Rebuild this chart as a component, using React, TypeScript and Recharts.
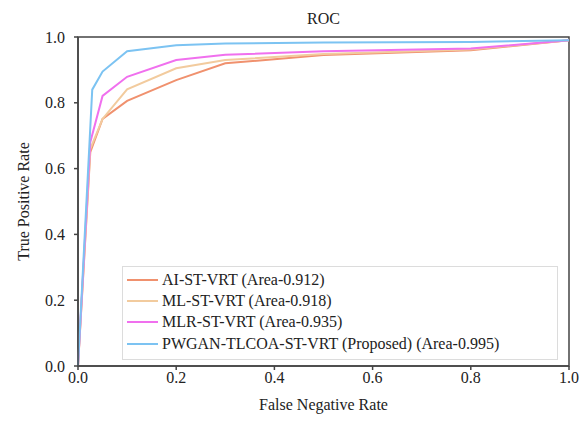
import { LineChart, Line, XAxis, YAxis, ReferenceArea } from 'recharts';

const fnr = [0, 0.025, 0.05, 0.1, 0.2, 0.3, 0.5, 0.8, 1.0];
const aiTpr = [0, 0.65, 0.751, 0.806, 0.869, 0.92, 0.945, 0.96, 0.99];
const mlTpr = [0, 0.66, 0.751, 0.841, 0.905, 0.93, 0.948, 0.962, 0.99];
const mlrTpr = [0, 0.68, 0.821, 0.879, 0.93, 0.946, 0.957, 0.965, 0.99];
const blueFnr = [0, 0.029, 0.05, 0.1, 0.2, 0.3, 0.5, 0.8, 1.0];
const pwganTpr = [0, 0.84, 0.895, 0.957, 0.975, 0.98, 0.983, 0.985, 0.99];

const xTicks = [0, 0.2, 0.4, 0.6, 0.8, 1.0];
const yTicks = [0, 0.2, 0.4, 0.6, 0.8, 1.0];

const series = [
  { name: 'AI-ST-VRT (Area-0.912)', color: '#f0916e', xs: fnr, ys: aiTpr },
  { name: 'ML-ST-VRT (Area-0.918)', color: '#f2cb9e', xs: fnr, ys: mlTpr },
  { name: 'MLR-ST-VRT (Area-0.935)', color: '#f070ee', xs: fnr, ys: mlrTpr },
  { name: 'PWGAN-TLCOA-ST-VRT (Proposed) (Area-0.995)', color: '#7cc3f2', xs: blueFnr, ys: pwganTpr },
];

const font = 'Liberation Serif';

// legend drawn as an overlay so it doesn't eat plot space
function LegendBox() {
  return (
    <div
      style={{
        position: 'absolute',
        left: 122,
        top: 266,
        width: 436,
        height: 94,
        border: '1px solid #dcdcdc',
        background: '#fff',
        padding: '2px 0 0 4px',
        fontFamily: font,
        fontSize: 16,
        color: '#222',
        boxSizing: 'border-box',
      }}
    >
      {series.map((s) => (
        <div key={s.name} style={{ display: 'flex', alignItems: 'center', height: 21.3, whiteSpace: 'nowrap' }}>
          <span style={{ display: 'inline-block', width: 31, height: 2, background: s.color, marginRight: 4 }} />
          <span>{s.name}</span>
        </div>
      ))}
    </div>
  );
}

export default function App() {
  return (
    <div style={{ position: 'absolute', left: 0, top: 0, width: 587, height: 421, background: '#fff' }}>
      <div
        style={{
          position: 'absolute',
          left: 78,
          width: 491,
          top: 10,
          textAlign: 'center',
          fontFamily: font,
          fontSize: 16,
          color: '#222',
        }}
      >
        ROC
      </div>
      <LineChart width={587} height={421} margin={{ top: 37, right: 18, bottom: 25, left: 28 }}>
        <XAxis
          type="number"
          dataKey="x"
          domain={[0, 1]}
          ticks={xTicks}
          tickFormatter={(v: number) => v.toFixed(1)}
          allowDuplicatedCategory={false}
          height={30}
          stroke="#444"
          strokeWidth={1.5}
          tickSize={4}
          tick={{ fill: '#222', fontFamily: font, fontSize: 16 }}
          label={{ value: 'False Negative Rate', position: 'bottom', offset: 3, fill: '#222', fontFamily: font, fontSize: 16 }}
        />
        <YAxis
          type="number"
          domain={[0, 1]}
          ticks={yTicks}
          tickFormatter={(v: number) => v.toFixed(1)}
          width={50}
          stroke="#444"
          strokeWidth={1.5}
          tickSize={4}
          tickMargin={9}
          tick={{ fill: '#222', fontFamily: font, fontSize: 16 }}
          label={{ value: 'True Positive Rate', angle: -90, position: 'insideLeft', offset: -5, style: { textAnchor: 'middle' }, fill: '#222', fontFamily: font, fontSize: 16 }}
        />
        <ReferenceArea x1={0} x2={1} y1={0} y2={1} fill="none" fillOpacity={0} stroke="#444" strokeWidth={1.5} />
        {series.map((s) => (
          <Line
            key={s.name}
            name={s.name}
            data={s.xs.map((x, i) => ({ x, y: s.ys[i] }))}
            dataKey="y"
            type="linear"
            stroke={s.color}
            strokeWidth={2}
            dot={false}
            activeDot={false}
            isAnimationActive={false}
          />
        ))}
      </LineChart>
      <LegendBox />
    </div>
  );
}
